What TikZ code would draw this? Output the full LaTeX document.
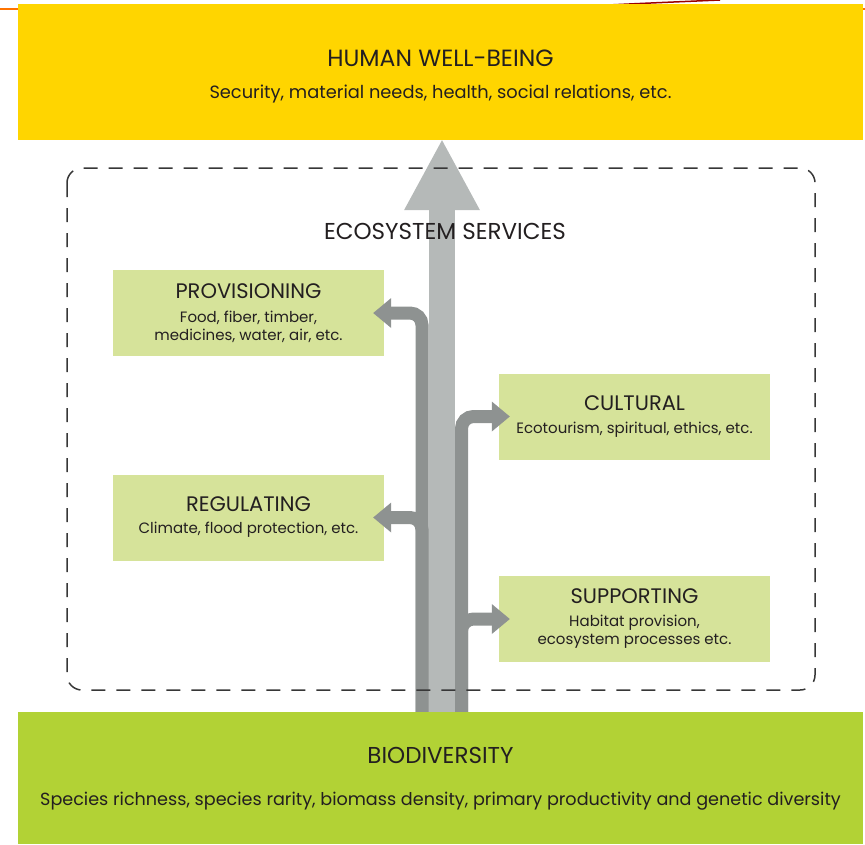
\documentclass[tikz,border=0pt]{standalone}
\usepackage{fontspec}
\setmainfont{Poppins}
\usetikzlibrary{calc}
\usetikzlibrary{arrows.meta}

\definecolor{wellyellow}{RGB}{255,213,0}
\definecolor{biogreen}{RGB}{178,210,53}
\definecolor{servgreen}{RGB}{214,227,154}
\definecolor{shaftgray}{RGB}{181,185,184}
\definecolor{branchgray}{RGB}{142,146,145}
\definecolor{dashgray}{RGB}{55,55,55}
\definecolor{inkgray}{RGB}{35,31,32}

\tikzset{
  band/.style={fill=#1, minimum width=845pt, inner sep=0pt},
  bandtext/.style={align=center, text=inkgray, font=\fontsize{#1}{20}\selectfont},
  service/.style={fill=servgreen, minimum width=271pt, minimum height=86pt, inner sep=0pt,
    align=center, text=inkgray, font=\fontsize{15}{18}\selectfont},
  head/.style={font=\fontsize{#1}{20}\selectfont},
  branch/.style={draw=branchgray, line width=13pt, rounded corners=12pt,
    -{Triangle[width=30pt,length=18pt,line width=0pt]}},
  trunk/.style={draw=shaftgray, line width=26pt,
    -{Triangle[width=76pt,length=70pt,line width=0pt]}},
}

\begin{document}
\begin{tikzpicture}[x=1pt,y=-1pt]

\useasboundingbox (0,0) rectangle (865,844);

\draw[orange!90!red,line width=1.2pt] (0,9)--(865,9);
\draw[red!60!black,line width=1.5pt] (608,5) .. controls (650,3) .. (720,0);

\node[band=wellyellow,minimum height=136pt] (well) at (440.5,72) {};
\node[bandtext=17.8] (welltext) at (440.5,77) {{\fontsize{23.5}{20}\selectfont HUMAN WELL-BEING}\\[12pt]Security, material needs, health, social relations, etc.};
\node[band=biogreen,minimum height=132pt] (bio) at (440.5,778) {};
\node[bandtext=17.6] (biotext) at (440.5,779) {{\fontsize{23}{20}\selectfont BIODIVERSITY}\\[22pt]Species richness, species rarity, biomass density, primary productivity and genetic diversity};

\node[service] (prov) at (248.5,313) {{\fontsize{21}{18}\selectfont PROVISIONING}\\[6pt]Food, fiber, timber,\\medicines, water, air, etc.};
\node[service] (reg) at (248.5,517.5) {{\fontsize{21}{18}\selectfont REGULATING}\\[4pt]Climate, flood protection, etc.};
\node[service] (cult) at (634.5,416.5) {{\fontsize{21}{18}\selectfont CULTURAL}\\[5pt]Ecotourism, spiritual, ethics, etc.};
\node[service] (supp) at (634.5,619) {{\fontsize{21}{18}\selectfont SUPPORTING}\\[5pt]Habitat provision,\\ecosystem processes etc.};

\draw[branch] ([xshift=-18.5pt]bio.north) |- ([xshift=-11pt]prov.east);
\draw[branch] ([xshift=-18.5pt]bio.north) |- ([xshift=-11pt]reg.east);
\draw[branch] ([xshift=21pt]bio.north) |- ([xshift=11pt]cult.west);
\draw[branch] ([xshift=21pt]bio.north) |- ([xshift=11pt]supp.west);
\draw[trunk] ([xshift=1.5pt]bio.north) -- ([xshift=1.5pt]well.south);

\coordinate (eco nw) at (67,168);
\coordinate (eco se) at (815,690);
\draw[dashgray,line width=1.5pt,dash pattern=on 14pt off 11pt,rounded corners=15pt] (eco nw) rectangle (eco se);
\node[head=23,text=inkgray] (eco) at (445,231) {ECOSYSTEM SERVICES};

\end{tikzpicture}
\end{document}
